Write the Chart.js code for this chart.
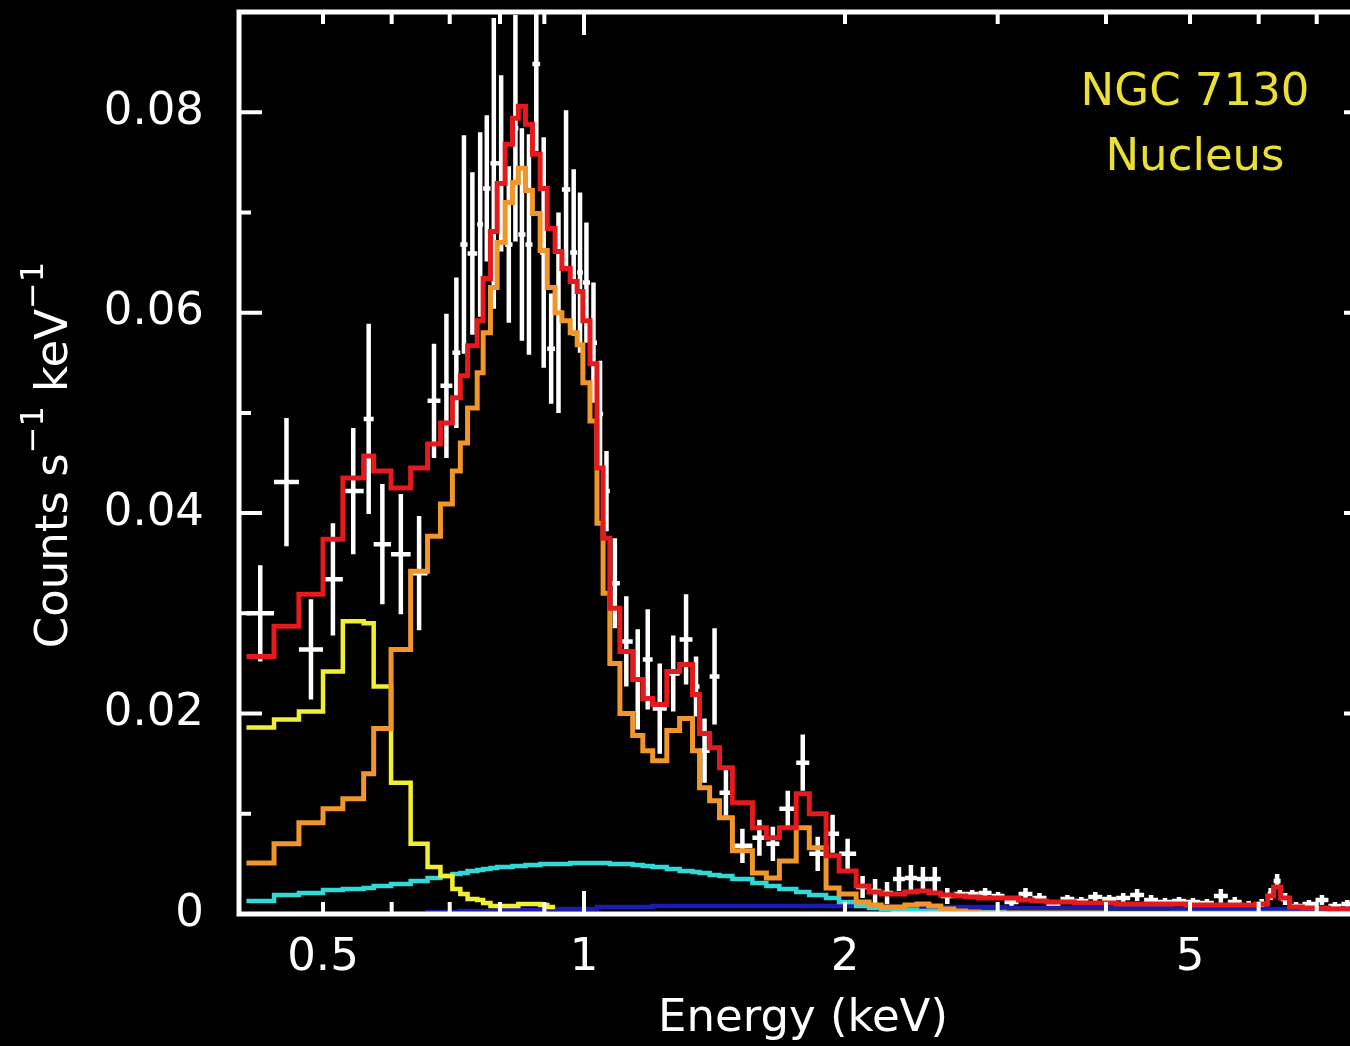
<!DOCTYPE html>
<html>
<head>
<meta charset="utf-8">
<script src="https://cdn.jsdelivr.net/npm/chart.js@4.4.1/dist/chart.umd.min.js"></script>
<style>
  html, body { margin: 0; padding: 0; background: #000; overflow: hidden; }
  #wrap { width: 1385px; height: 1046px; }
</style>
</head>
<body>
<div id="wrap"><canvas id="spectrum" width="1385" height="1046"></canvas></div>
<script>
// Energy bin edges (keV), one more than the number of channels
var binEdges = [
  0.408, 0.439, 0.469, 0.500, 0.527, 0.557, 0.572, 0.599, 0.631, 0.660,
  0.683, 0.705, 0.720, 0.734, 0.753, 0.765, 0.780, 0.794, 0.811, 0.827,
  0.840, 0.856, 0.872, 0.890, 0.907, 0.926, 0.943, 0.964, 0.982, 0.997,
  1.016, 1.035, 1.052, 1.071, 1.100, 1.138, 1.169, 1.200, 1.246, 1.289,
  1.334, 1.359, 1.396, 1.433, 1.483, 1.564, 1.623, 1.680, 1.757, 1.819,
  1.902, 1.969, 2.060, 2.132, 2.201, 2.272, 2.345, 2.421, 2.499, 2.579,
  2.670, 2.756, 2.852, 2.952, 3.055, 3.171, 3.290, 3.415, 3.544, 3.677,
  3.816, 3.960, 4.110, 4.265, 4.426, 4.593, 4.766, 4.946, 5.133, 5.327,
  5.528, 5.736, 5.953, 6.145, 6.243, 6.360, 6.513, 6.741, 6.977, 7.221,
  7.474, 7.715, 7.964
];

// Observed count rate per bin and its 1-sigma error
var dataRate = [
  0.0300, 0.0431, 0.0264, 0.0334, 0.0422, 0.0494, 0.0369, 0.0359, 0.0340, 0.0512,
  0.0527, 0.0560, 0.0668, 0.0659, 0.0688, 0.0724, 0.0749, 0.0749, 0.0668, 0.0784,
  0.0678, 0.0668, 0.0848, 0.0660, 0.0564, 0.0600, 0.0723, 0.0660, 0.0640, 0.0630,
  0.0570, 0.0499, 0.0422, 0.0330, 0.0272, 0.0234, 0.0254, 0.0205, 0.0240, 0.0274,
  0.0227, 0.0163, 0.0237, 0.0121, 0.0068, 0.0076, 0.0070, 0.0105, 0.0151, 0.0060,
  0.0080, 0.0060, 0.0027, 0.0023, 0.0021, 0.0035, 0.0036, 0.0035, 0.0035, 0.0018,
  0.0020, 0.0020, 0.0021, 0.0018, 0.0012, 0.0020, 0.0016, 0.0010, 0.0015, 0.0013,
  0.0017, 0.0015, 0.0016, 0.0019, 0.0014, 0.0012, 0.0013, 0.0012, 0.0011, 0.0018,
  0.0012, 0.0008, 0.0010, 0.0020, 0.0033, 0.0015, 0.0008, 0.0010, 0.0014, 0.0008,
  0.0010, 0.0008
];
var dataErr = [
  0.0048, 0.0064, 0.0050, 0.0056, 0.0063, 0.0095, 0.0060, 0.0060, 0.0057, 0.0057,
  0.0072, 0.0075, 0.0109, 0.0081, 0.0092, 0.0073, 0.0145, 0.0088, 0.0078, 0.0113,
  0.0106, 0.0110, 0.0087, 0.0115, 0.0055, 0.0100, 0.0079, 0.0083, 0.0080, 0.0060,
  0.0060, 0.0053, 0.0040, 0.0045, 0.0045, 0.0050, 0.0050, 0.0045, 0.0038, 0.0045,
  0.0030, 0.0032, 0.0048, 0.0023, 0.0017, 0.0018, 0.0017, 0.0018, 0.0028, 0.0017,
  0.0019, 0.0015, 0.0011, 0.0012, 0.0011, 0.0012, 0.0013, 0.0012, 0.0012, 0.0008,
  0.0004, 0.0004, 0.0005, 0.0004, 0.0004, 0.0006, 0.0005, 0.0004, 0.0004, 0.0004,
  0.0005, 0.0004, 0.0005, 0.0006, 0.0005, 0.0004, 0.0004, 0.0004, 0.0004, 0.0007,
  0.0005, 0.0005, 0.0005, 0.0006, 0.0007, 0.0006, 0.0004, 0.0004, 0.0005, 0.0004,
  0.0004, 0.0004
];

// Folded model: total and its components
var totalModel = [
  0.0257, 0.0287, 0.0319, 0.0374, 0.0435, 0.0457, 0.0442, 0.0425, 0.0445, 0.0469,
  0.0490, 0.0515, 0.0537, 0.0567, 0.0592, 0.0634, 0.0681, 0.0729, 0.0768, 0.0794,
  0.0806, 0.0788, 0.0758, 0.0724, 0.0684, 0.0661, 0.0644, 0.0631, 0.0621, 0.0592,
  0.0549, 0.0445, 0.0375, 0.0305, 0.0262, 0.0234, 0.0215, 0.0209, 0.0242, 0.0249,
  0.0219, 0.0180, 0.0166, 0.0146, 0.0111, 0.0086, 0.0076, 0.0086, 0.0120, 0.0100,
  0.0058, 0.0043, 0.0028, 0.0022, 0.0020, 0.0020, 0.0022, 0.0023, 0.0021, 0.0019,
  0.0018, 0.0017, 0.0016, 0.0016, 0.0016, 0.0014, 0.0013, 0.0012, 0.0012, 0.0011,
  0.0011, 0.0011, 0.0010, 0.0010, 0.0010, 0.0010, 0.0010, 0.0009, 0.0009, 0.0009,
  0.0009, 0.0009, 0.0010, 0.0018, 0.0027, 0.0016, 0.0007, 0.0006, 0.0006, 0.0005,
  0.0005, 0.0005
];
var hotPlasma = [
  0.0051, 0.0070, 0.0091, 0.0105, 0.0115, 0.0140, 0.0185, 0.0264, 0.0342, 0.0377,
  0.0409, 0.0442, 0.0470, 0.0505, 0.0540, 0.0580, 0.0625, 0.0670, 0.0710, 0.0730,
  0.0744, 0.0722, 0.0699, 0.0662, 0.0625, 0.0600, 0.0592, 0.0580, 0.0568, 0.0530,
  0.0492, 0.0390, 0.0320, 0.0250, 0.0200, 0.0178, 0.0163, 0.0153, 0.0183, 0.0195,
  0.0163, 0.0126, 0.0113, 0.0096, 0.0063, 0.0041, 0.0036, 0.0053, 0.0086, 0.0066,
  0.0026, 0.0020, 0.0012, 0.0009, 0.0007, 0.0007, 0.0009, 0.0010, 0.0008, 0.0005,
  0.0003, 0.0002, 0.0001, 0.0001, 0.0001, 0.0001, 0.0001, 0.0001, 0.0001, 0.0001,
  0.0001, 0, 0, 0, 0, 0, 0, 0, 0, 0,
  0, 0, 0, 0, 0, 0, 0, 0, 0, 0,
  0, 0
];
var softPlasma = [
  0.0186, 0.0194, 0.0202, 0.0242, 0.0292, 0.0290, 0.0227, 0.0131, 0.0070, 0.0047,
  0.0038, 0.0025, 0.0020, 0.0015, 0.0014, 0.0011, 0.0008, 0.0008, 0.0008, 0.0008,
  0.0010, 0.0010, 0.0010, 0.0009, 0.0007
];
var powerLaw = [
  0.0013, 0.0019, 0.0021, 0.0024, 0.0025, 0.0026, 0.0028, 0.0030, 0.0033, 0.0036,
  0.0038, 0.0040, 0.0041, 0.0043, 0.0044, 0.0045, 0.0046, 0.0047, 0.0047, 0.0048,
  0.0048, 0.0049, 0.0049, 0.0050, 0.0050, 0.0050, 0.0050, 0.0051, 0.0051, 0.0051,
  0.0051, 0.0051, 0.0051, 0.0050, 0.0050, 0.0049, 0.0048, 0.0047, 0.0045, 0.0043,
  0.0042, 0.0041, 0.0039, 0.0038, 0.0035, 0.0031, 0.0028, 0.0025, 0.0022, 0.0019,
  0.0016, 0.0012, 0.0008, 0.0006, 0.0005, 0.0004, 0.0004, 0.0003, 0.0003, 0.0002,
  0.0002, 0.0002, 0.0002, 0.0002, 0.0001, 0.0001, 0.0001, 0.0001, 0.0001, 0.0001,
  0.0001, 0.0001, 0.0001, 0.0001, 0.0001, 0.0001, 0.0001, 0.0001, 0.0001, 0.0001,
  0.0001, 0.0001, 0.0001, 0.0001, 0.0001, 0.0001, 0.0001, 0.0001, 0.0001, 0.0001,
  0.0001, 0.0001
];
var absorbedPowerLaw = [
  0, 0, 0, 0, 0, 0, 0, 0, 0, 0.0002,
  0.0002, 0.0002, 0.0003, 0.0003, 0.0003, 0.0003, 0.0003, 0.0004, 0.0004, 0.0004,
  0.0004, 0.0004, 0.0004, 0.0004, 0.0005, 0.0005, 0.0005, 0.0005, 0.0005, 0.0005,
  0.0005, 0.0007, 0.0007, 0.0007, 0.0007, 0.0007, 0.0007, 0.0008, 0.0008, 0.0008,
  0.0008, 0.0008, 0.0008, 0.0008, 0.0008, 0.0008, 0.0008, 0.0008, 0.0008, 0.0008,
  0.0008, 0.0008, 0.0008, 0.0007, 0.0007, 0.0007, 0.0007, 0.0007, 0.0007, 0.0007,
  0.0007, 0.0007, 0.0007, 0.0007, 0.0006, 0.0006, 0.0006, 0.0006, 0.0006, 0.0006,
  0.0006, 0.0006, 0.0006, 0.0006, 0.0006, 0.0006, 0.0005, 0.0005, 0.0005, 0.0005,
  0.0005, 0.0005, 0.0005, 0.0005, 0.0005, 0.0005, 0.0005, 0.0005, 0.0005, 0.0005,
  0.0005, 0.0005
];

// Axis ticks
var xTickLabels = [0.5, 1, 2, 5];
var xMajorTicks = [1];
var xMinorTicks = [0.5, 0.6, 0.7, 0.8, 0.9, 2, 3, 4, 5, 6, 7];
var yTickLabels = [0, 0.02, 0.04, 0.06, 0.08];
var yMinorTicks = [0.01, 0.03, 0.05, 0.07];

var FONT = 'DejaVu Sans';

// turn per-bin values into points for a stepped line
function stepPoints(values) {
    var pts = [];
    for (var i = 0; i < values.length; i++) {
        pts.push({ x: binEdges[i], y: values[i] });
    }
    pts.push({ x: binEdges[values.length], y: values[values.length - 1] });
    return pts;
}

function modelLine(values, colour, width) {
    return {
        data: stepPoints(values),
        borderColor: colour,
        borderWidth: width,
        stepped: true,
        pointRadius: 0,
        fill: false,
        borderJoinStyle: 'miter'
    };
}

// data crosses: bin width horizontally, error vertically
var errorBars = {
    id: 'errorBars',
    beforeDatasetsDraw: function(chart) {
        var ctx = chart.ctx, xs = chart.scales.x, ys = chart.scales.y, area = chart.chartArea;
        ctx.save();
        ctx.beginPath();
        ctx.rect(area.left, area.top, area.right - area.left, area.bottom - area.top);
        ctx.clip();
        ctx.strokeStyle = '#ffffff';
        ctx.lineWidth = 4.5;
        for (var i = 0; i < dataRate.length; i++) {
            var lo = binEdges[i], hi = binEdges[i + 1];
            var xc = xs.getPixelForValue(Math.sqrt(lo * hi));
            var yc = ys.getPixelForValue(dataRate[i]);
            ctx.beginPath();
            ctx.moveTo(xs.getPixelForValue(lo), yc);
            ctx.lineTo(xs.getPixelForValue(hi), yc);
            ctx.moveTo(xc, ys.getPixelForValue(dataRate[i] + dataErr[i]));
            ctx.lineTo(xc, ys.getPixelForValue(dataRate[i] - dataErr[i]));
            ctx.stroke();
        }
        ctx.restore();
    }
};

// box, inward tick marks, y title and the source name
var frame = {
    id: 'frame',
    afterDatasetsDraw: function(chart) {
        var ctx = chart.ctx, xs = chart.scales.x, ys = chart.scales.y, a = chart.chartArea;
        ctx.save();
        ctx.strokeStyle = '#ffffff';
        ctx.lineWidth = 4;
        ctx.beginPath();
        xMajorTicks.concat(xMinorTicks).forEach(function(v) {
            var len = xMajorTicks.indexOf(v) >= 0 ? 23 : 12;
            var px = xs.getPixelForValue(v);
            ctx.moveTo(px, a.bottom); ctx.lineTo(px, a.bottom - len);
            ctx.moveTo(px, a.top); ctx.lineTo(px, a.top + len);
        });
        yTickLabels.concat(yMinorTicks).forEach(function(v) {
            var len = yMinorTicks.indexOf(v) >= 0 ? 12 : 23;
            var py = ys.getPixelForValue(v);
            ctx.moveTo(a.left, py); ctx.lineTo(a.left + len, py);
            ctx.moveTo(a.right, py); ctx.lineTo(a.right - len, py);
        });
        ctx.stroke();
        ctx.lineWidth = 5;
        ctx.strokeRect(a.left, a.top, a.right - a.left, a.bottom - a.top);

        // y axis title with superscripts
        var parts = [
            { t: 'Counts s', size: 45, rise: 0 },
            { t: '\u22121', size: 32, rise: 24 },
            { t: ' keV', size: 45, rise: 0 },
            { t: '\u22121', size: 32, rise: 24 }
        ];
        var total = 0;
        parts.forEach(function(p) {
            ctx.font = p.size + 'px "' + FONT + '"';
            p.w = ctx.measureText(p.t).width;
            total += p.w;
        });
        ctx.translate(67, 455);
        ctx.rotate(-Math.PI / 2);
        ctx.fillStyle = '#ffffff';
        ctx.textBaseline = 'alphabetic';
        ctx.textAlign = 'left';
        var x = -total / 2;
        parts.forEach(function(p) {
            ctx.font = p.size + 'px "' + FONT + '"';
            ctx.fillText(p.t, x, -p.rise);
            x += p.w;
        });
        ctx.restore();

        ctx.save();
        ctx.fillStyle = '#ebe032';
        ctx.font = '45px "' + FONT + '"';
        ctx.textAlign = 'center';
        ctx.fillText('NGC 7130', 1195, 105);
        ctx.fillText('Nucleus', 1195, 170);
        ctx.restore();
    }
};

var tickFont = { family: FONT, size: 45 };

new Chart(document.getElementById('spectrum'), {
    type: 'line',
    data: {
        datasets: [
            modelLine(totalModel, '#e41a1c', 5),
            modelLine(hotPlasma, '#f0962a', 5),
            modelLine(softPlasma, '#f2ee30', 4.5),
            modelLine(powerLaw, '#30d8d8', 4.5),
            modelLine(absorbedPowerLaw, '#1c1cb4', 4.5)
        ]
    },
    options: {
        responsive: false,
        animation: false,
        layout: { padding: { top: 12, right: 18, bottom: 0, left: 0 } },
        plugins: {
            legend: { display: false },
            tooltip: { enabled: false }
        },
        scales: {
            x: {
                type: 'logarithmic',
                min: 0.4,
                max: 8,
                grid: { display: false, drawTicks: false },
                border: { display: false },
                ticks: {
                    color: '#ffffff',
                    font: tickFont,
                    padding: 17,
                    maxRotation: 0,
                    autoSkip: false,
                    callback: function(v) { return String(v); }
                },
                afterBuildTicks: function(s) {
                    s.ticks = xTickLabels.map(function(v) { return { value: v }; });
                },
                afterFit: function(s) {
                    s.height = 132;
                    s.paddingLeft = 0;
                    s.paddingRight = 0;
                },
                title: {
                    display: true,
                    text: 'Energy (keV)',
                    color: '#ffffff',
                    font: tickFont,
                    padding: { top: 0, bottom: 0 }
                }
            },
            y: {
                type: 'linear',
                min: 0,
                max: 0.09,
                grid: { display: false, drawTicks: false },
                border: { display: false },
                ticks: {
                    color: '#ffffff',
                    font: tickFont,
                    padding: 35,
                    callback: function(v) { return String(v); }
                },
                afterBuildTicks: function(s) {
                    s.ticks = yTickLabels.map(function(v) { return { value: v }; });
                },
                afterFit: function(s) {
                    s.width = 239;
                    s.paddingTop = 0;
                    s.paddingBottom = 0;
                }
            }
        }
    },
    plugins: [errorBars, frame]
});
</script>
</body>
</html>
